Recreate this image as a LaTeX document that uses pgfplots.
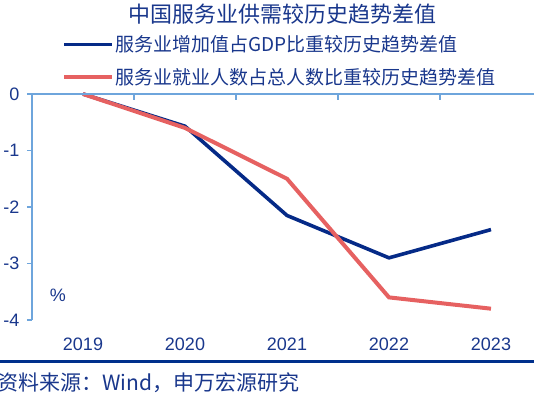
\documentclass[border=0pt]{standalone}
\usepackage{pgfplots}
\pgfplotsset{compat=1.18}
\usepackage{fontspec}
\setmainfont{Liberation Sans}
\newfontfamily\cjk{Noto Sans CJK SC}
\definecolor{txtblue}{RGB}{25,55,140}
\definecolor{lineblue}{RGB}{5,42,135}
\definecolor{linered}{RGB}{230,97,97}
\definecolor{axblue}{RGB}{110,165,220}
\definecolor{rule}{RGB}{0,48,140}
\begin{document}
\begin{tikzpicture}
\useasboundingbox (0,0) rectangle (534bp,398bp);
\clip (0,0) rectangle (534bp,398bp);
\begin{axis}[
  at={(32bp,78bp)}, anchor=south west,
  scale only axis, width=510bp, height=226bp,
  xmin=-0.5, xmax=4.5, ymin=-4, ymax=0,
  clip=false,
  axis y line*=left, axis x line*=bottom,
  x axis line style={draw=none},
  xtick style={draw=none},
  y axis line style={axblue, line width=1.2bp},
  ytick style={axblue, line width=1.2bp},
  tick align=outside, major tick length=5bp,
  xtick={0,1,2,3,4},
  xticklabels={2019,2020,2021,2022,2023},
  ytick={-4,-3,-2,-1,0},
  yticklabels={-4,-3,-2,-1,0},
  tick label style={font=\fontsize{18bp}{20bp}\selectfont, text=txtblue},
  xticklabel style={yshift=-9bp},
  yticklabel style={xshift=-4bp},
  legend style={at={(axis description cs:0.059,1.265)}, anchor=north west,
    draw=none, fill=none, font=\cjk\fontsize{19bp}{21bp}\selectfont,
    text=txtblue, row sep=12bp, inner sep=0pt,
    nodes={inner sep=1.5bp}},
  legend cell align=left,
  legend image code/.code={\draw[#1] (0bp,0bp) -- (48bp,0bp);},
]
\addplot[lineblue, line width=3.6bp] coordinates {(0,0) (1,-0.57) (2,-2.15) (3,-2.9) (4,-2.4)};
\addlegendentry{服务业增加值占GDP比重较历史趋势差值}
\addplot[linered, line width=4bp] coordinates {(0,0) (1,-0.6) (2,-1.5) (3,-3.6) (4,-3.8)};
\addlegendentry{服务业就业人数占总人数比重较历史趋势差值}
\end{axis}
\begin{axis}[
  at={(32bp,78bp)}, anchor=south west,
  scale only axis, width=510bp, height=226bp,
  xmin=-0.5, xmax=4.5, ymin=-4, ymax=0,
  axis x line*=top, axis y line=none,
  x axis line style={axblue, line width=1.2bp},
  xtick style={axblue, line width=1.2bp},
  tick align=inside, major tick length=6bp,
  xtick={-0.5,0.5,1.5,2.5,3.5,4.5},
  xticklabels={},
]
\end{axis}
\node[font=\cjk\fontsize{22bp}{24bp}\selectfont, text=txtblue] at (282bp,384bp) {中国服务业供需较历史趋势差值};
\node[font=\fontsize{18bp}{20bp}\selectfont, text=txtblue] at (58bp,103bp) {\%};
\draw[rule, line width=3bp] (0,36bp) -- (534bp,36bp);
\node[font=\cjk\fontsize{21bp}{23bp}\selectfont, text=txtblue, anchor=west, inner sep=0pt] at (-3bp,15bp) {资料来源：Wind，申万宏源研究};
\end{tikzpicture}
\end{document}
